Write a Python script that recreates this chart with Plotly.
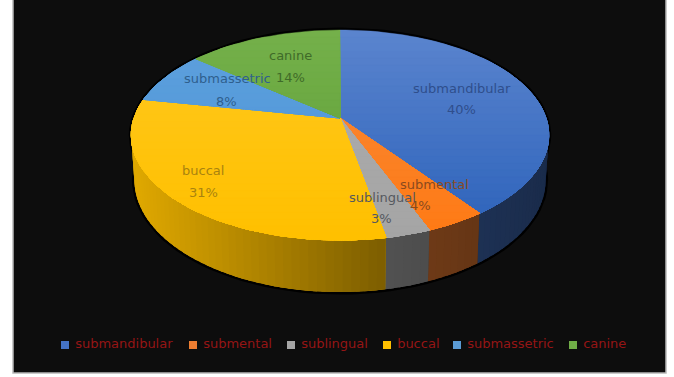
import math
import plotly.graph_objects as go

# Chart content
categories = ["submandibular", "submental", "sublingual", "buccal", "submassetric", "canine"]
values = [40, 4, 3, 31, 8, 14]

# Slice styling: (upper shade, lower shade) of the top face, base colour of the side wall
face_light = ["#5A84CE", "#F58A3C", "#ADADAD", "#FFC81E", "#5EA0DC", "#74B04A"]
face_dark = ["#2C62BA", "#FF7A14", "#A5A5A5", "#FFC000", "#4A94DA", "#5E9E36"]
wall_base = ["#4472C4", "#ED7D31", "#A5A5A5", "#FFC000", "#5B9BD5", "#70AD47"]
legend_colors = ["#4472C4", "#ED7D31", "#A5A5A5", "#FFC000", "#5B9BD5", "#70AD47"]
label_colors = ["#2F4E8C", "#8A4A1E", "#55585E", "#A9820F", "#2F5F8E", "#3F6B28"]

# Label anchors in page pixels, name then percentage
name_xy = [(462, 88), (434, 184), (382, 197), (203, 170), (227, 78), (290, 55)]
pct_xy = [(461, 109), (420, 205), (381, 218), (203, 192), (226, 101), (290, 77)]
legend_swatch_x = [65, 193, 291, 387, 457, 573]

# Perspective projection of the pie
CX, CY = 340.0, 118.0
RX, RY = 206.0, 102.3
PERSP = 0.162
DEPTH = 43.6


def project(deg, lower=False):
    """Clockwise angle from 12 o'clock to page pixels on the top or bottom rim."""
    a = math.radians(deg)
    X, Y = math.sin(a), math.cos(a)
    w = 1 + PERSP * Y
    x = CX + RX * X / w
    y = CY - RY * Y / w
    if lower:
        x = CX + (x - CX) * 0.985
        y += DEPTH / w
    return x, y


def hex_rgb(h):
    return tuple(int(h[i:i + 2], 16) for i in (1, 3, 5))


def mix(c1, c2, t):
    a, b = hex_rgb(c1), hex_rgb(c2)
    return "rgb({},{},{})".format(*[round(a[i] + (b[i] - a[i]) * t) for i in range(3)])


def shade(base, x):
    # The side wall is brightest on the left and falls off to the right
    if x < CX + 35:
        f = 0.88 + (0.50 - 0.88) * (x - 131) / 244
    else:
        f = 0.50 + (0.38 - 0.50) * (x - 375) / 174
    r, g, b = hex_rgb(base)
    return f"rgb({round(r * f)},{round(g * f)},{round(b * f)})"


def clip_below(poly, y0):
    """Keep the part of a polygon at or below the page line y = y0."""
    out = []
    for i, p in enumerate(poly):
        q = poly[(i + 1) % len(poly)]
        if p[1] >= y0:
            out.append(p)
        if (p[1] >= y0) != (q[1] >= y0):
            t = (y0 - p[1]) / (q[1] - p[1])
            out.append((p[0] + (q[0] - p[0]) * t, y0))
    return out


def polygon(points, color, width=0.6):
    xs = [p[0] for p in points] + [points[0][0]]
    ys = [p[1] for p in points] + [points[0][1]]
    return go.Scatter(x=xs, y=ys, mode="lines", fill="toself", fillcolor=color,
                      line=dict(color=color, width=width), hoverinfo="skip", showlegend=False)


fig = go.Figure()

# Dark halo round the pie
rim_deg = list(range(0, 361, 3))
halo_top = [project(d) for d in rim_deg]
halo_low = [project(d, True) for d in range(60, 301, 3)]
for pts in (halo_top, halo_low):
    fig.add_trace(go.Scatter(x=[p[0] for p in pts], y=[p[1] for p in pts], mode="lines",
                             line=dict(color="#000000", width=5), hoverinfo="skip", showlegend=False))

# Slice angle ranges from the values
total = sum(values)
edges = [0.0]
for v in values:
    edges.append(edges[-1] + 360.0 * v / total)

# Side wall: a solid backing per slice, then narrow shaded strips over it
for i in range(len(values)):
    a0, a1 = edges[i], edges[i + 1]
    lo, hi = max(a0, 70.0), min(a1, 290.0)
    if hi <= lo:
        continue
    n = max(1, int((hi - lo) / 2))
    angles = [lo + (hi - lo) * k / n for k in range(n + 1)]
    backing = [project(a) for a in angles] + [project(a, True) for a in reversed(angles)]
    fig.add_trace(polygon(backing, shade(wall_base[i], project((lo + hi) / 2)[0]), 0))
    for k in range(n):
        s0, s1 = angles[k], angles[k + 1]
        # Each strip runs slightly into the next one so no gap shows between them
        s1_over = min(s1 + 1.0, hi)
        pts = [project(s0), project(s1_over), project(s1_over, True), project(s0, True)]
        fig.add_trace(polygon(pts, shade(wall_base[i], (pts[0][0] + pts[1][0]) / 2), 0))

# Top face, painted slice by slice with a vertical shade
BANDS = 30
y_top, y_bottom = project(0)[1], project(180)[1]
for i in range(len(values)):
    a0, a1 = edges[i], edges[i + 1]
    steps = max(2, int((a1 - a0) / 2))
    slice_pts = [(CX, CY)] + [project(a0 + (a1 - a0) * k / steps) for k in range(steps + 1)]
    for b in range(BANDS):
        y0 = y_top + (y_bottom - y_top) * b / BANDS
        part = clip_below(slice_pts, y0)
        if len(part) >= 3:
            fig.add_trace(polygon(part, mix(face_light[i], face_dark[i], b / (BANDS - 1)), 0.4))

# Data labels
for i, name in enumerate(categories):
    for (x, y), text in ((name_xy[i], name), (pct_xy[i], f"{values[i]}%")):
        fig.add_annotation(x=x, y=y, text=text, showarrow=False, xanchor="center", yanchor="middle",
                           font=dict(family="DejaVu Sans", size=13, color=label_colors[i]))

# Legend row along the bottom
LEGEND_Y = 345
fig.add_trace(go.Scatter(
    x=legend_swatch_x, y=[LEGEND_Y] * len(categories), mode="markers+text",
    marker=dict(symbol="square", size=8, color=legend_colors),
    text=[" " + c for c in categories], textposition="middle right",
    textfont=dict(family="DejaVu Sans", size=13, color="#951515"),
    hoverinfo="skip", showlegend=False))

fig.update_layout(
    width=674, height=377, margin=dict(l=0, r=0, t=0, b=0),
    paper_bgcolor="#FFFFFF", plot_bgcolor="#FFFFFF", showlegend=False,
    xaxis=dict(range=[0, 674], visible=False, fixedrange=True),
    yaxis=dict(range=[377, 0], visible=False, fixedrange=True),
    shapes=[dict(type="rect", x0=13, x1=666, y0=-2, y1=373, layer="below",
                 fillcolor="#0D0D0D", line=dict(color="#B8B8B8", width=1.5))],
)

fig.write_html("out.html")
